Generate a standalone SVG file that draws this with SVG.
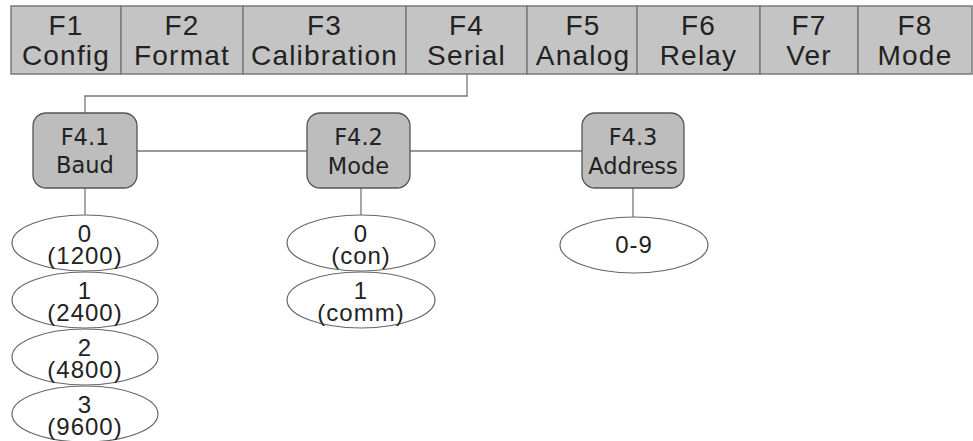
<svg xmlns="http://www.w3.org/2000/svg" width="973" height="441" viewBox="0 0 973 441">
<style>
.tab{fill:#c4c4c4;stroke:#7a7a7a;stroke-width:1.5}
.tt{font-family:"Liberation Sans",Arial,sans-serif;font-size:28px;fill:#222;text-anchor:middle;letter-spacing:1.2px}
.box{fill:#bdbdbd;stroke:#555;stroke-width:1.3}
.bt{font-family:"DejaVu Sans",Verdana,sans-serif;font-size:22.5px;fill:#222;text-anchor:middle}
.ell{fill:#fff;stroke:#666;stroke-width:1.2}
.et{font-family:"Liberation Sans",Arial,sans-serif;font-size:24px;fill:#222;text-anchor:middle;letter-spacing:1px}
.ln{fill:none;stroke:#777;stroke-width:1.3}
</style>
<rect width="973" height="441" fill="#fff"/>
<g id="F1"><rect class="tab" x="11" y="6" width="110" height="68"/><text class="tt" x="66" y="35">F1</text><text class="tt" x="66" y="65">Config</text></g>
<g id="F2"><rect class="tab" x="121" y="6" width="122" height="68"/><text class="tt" x="182" y="35">F2</text><text class="tt" x="182" y="65">Format</text></g>
<g id="F3"><rect class="tab" x="243" y="6" width="163" height="68"/><text class="tt" x="324.5" y="35">F3</text><text class="tt" x="324.5" y="65">Calibration</text></g>
<g id="F4"><rect class="tab" x="406" y="6" width="121" height="68"/><text class="tt" x="466.5" y="35">F4</text><text class="tt" x="466.5" y="65">Serial</text></g>
<g id="F5"><rect class="tab" x="527" y="6" width="110" height="68"/><text class="tt" x="583" y="35">F5</text><text class="tt" x="583" y="65">Analog</text></g>
<g id="F6"><rect class="tab" x="637" y="6" width="123" height="68"/><text class="tt" x="698.5" y="35">F6</text><text class="tt" x="698.5" y="65">Relay</text></g>
<g id="F7"><rect class="tab" x="760" y="6" width="98" height="68"/><text class="tt" x="809" y="35">F7</text><text class="tt" x="809" y="65">Ver</text></g>
<g id="F8"><rect class="tab" x="858" y="6" width="114" height="68"/><text class="tt" x="915" y="35">F8</text><text class="tt" x="915" y="65">Mode</text></g>
<g id="connectors">
<path class="ln" d="M467 74 V96 H85 V113"/>
<path class="ln" d="M137 151 H307"/>
<path class="ln" d="M410 151 H582"/>
<path class="ln" d="M85 188 V215"/>
<path class="ln" d="M361 188 V215"/>
<path class="ln" d="M633 188 V217"/>
</g>
<g id="F4.1"><rect class="box" x="33" y="113" width="104" height="75" rx="13"/><text class="bt" x="85" y="145">F4.1</text><text class="bt" x="85" y="173">Baud</text></g>
<g id="F4.2"><rect class="box" x="307" y="113" width="103" height="75" rx="13"/><text class="bt" x="358.5" y="145">F4.2</text><text class="bt" x="358.5" y="174">Mode</text></g>
<g id="F4.3"><rect class="box" x="582" y="113" width="102" height="75" rx="13"/><text class="bt" x="633" y="145">F4.3</text><text class="bt" x="633" y="174">Address</text></g>
<g id="baud0"><ellipse class="ell" cx="85" cy="243" rx="73" ry="28"/><text class="et" x="85" y="242">0<tspan x="85" dy="22">(1200)</tspan></text></g>
<g id="baud1"><ellipse class="ell" cx="85" cy="300" rx="73" ry="28"/><text class="et" x="85" y="299">1<tspan x="85" dy="22">(2400)</tspan></text></g>
<g id="baud2"><ellipse class="ell" cx="85" cy="357" rx="73" ry="28"/><text class="et" x="85" y="356">2<tspan x="85" dy="22">(4800)</tspan></text></g>
<g id="baud3"><ellipse class="ell" cx="85" cy="414" rx="73" ry="28"/><text class="et" x="85" y="413">3<tspan x="85" dy="22">(9600)</tspan></text></g>
<g id="mode0"><ellipse class="ell" cx="361" cy="243" rx="74" ry="28"/><text class="et" x="361" y="242">0<tspan x="361" dy="22">(con)</tspan></text></g>
<g id="mode1"><ellipse class="ell" cx="361" cy="300" rx="74" ry="28"/><text class="et" x="361" y="299">1<tspan x="361" dy="22">(comm)</tspan></text></g>
<g id="addr"><ellipse class="ell" cx="634" cy="245" rx="74" ry="28"/><text class="et" x="634" y="253">0-9</text></g>
</svg>
